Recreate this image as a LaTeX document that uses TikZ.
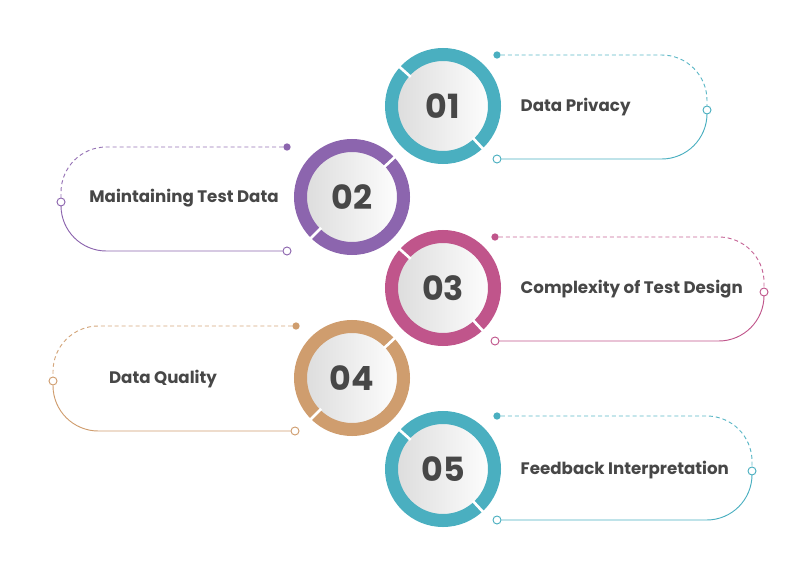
\documentclass[tikz,border=0pt]{standalone}
\usepackage{fontspec}
\setmainfont{Poppins}
\usetikzlibrary{calc}
\definecolor{sea}{HTML}{4AAFC0}
\definecolor{grape}{HTML}{8C65AE}
\definecolor{berry}{HTML}{C0558B}
\definecolor{sand}{HTML}{CF9D6E}
\definecolor{inkgrey}{HTML}{474747}
\tikzset{
  ring/.style={circle, draw=#1, line width=9.75pt, minimum size=77.25pt,
               inner sep=0pt, left color=black!14, right color=white,
               font=\bfseries\fontsize{25}{25}\selectfont, text=inkgrey},
  cut/.style={draw=white, line width=2pt},
  dotf/.style={circle, fill=#1, inner sep=0pt, minimum size=5.5pt},
  doto/.style={circle, draw=#1, fill=white, line width=0.7pt, inner sep=0pt,
               minimum size=6pt},
  dsh/.style={draw=#1!90, line width=0.7pt, dash pattern=on 3pt off 2.2pt,
              rounded corners=34pt},
  sld/.style={draw=#1, line width=0.7pt, rounded corners=34pt},
  lbl/.style={font=\bfseries\fontsize{12.5}{14}\selectfont, text=inkgrey},
}

\begin{document}
\begin{tikzpicture}[x=0.75pt, y=-0.75pt]
  \useasboundingbox (0,0) rectangle (788,581);

  % rings
  \node[ring=sea]   (c1) at (443,106) {01};
  \node[ring=grape] (c2) at (352,197) {02};
  \node[ring=berry] (c3) at (443,288) {03};
  \node[ring=sand]  (c4) at (352,378) {04};
  \node[ring=sea]   (c5) at (443,469) {05};
  \foreach \c/\a in {c1/138, c1/-47, c2/43, c2/225, c3/138, c3/-47,
                     c4/43, c4/225, c5/138, c5/-47}
    \draw[cut] ($(\c)!0.75!(\c.\a)$) -- ($(\c)!1.03!(\c.\a)$);

  % capsule ends
  \node[dotf=sea]   (d1) at (497,55)  {};
  \node[doto=sea]   (m1) at (707,110) {};
  \node[doto=sea]   (e1) at (497,159) {};
  \node[dotf=grape] (d2) at (287,147) {};
  \node[doto=grape] (m2) at (61,202)  {};
  \node[doto=grape] (e2) at (287,251) {};
  \node[dotf=berry] (d3) at (495,237) {};
  \node[doto=berry] (m3) at (764,292) {};
  \node[doto=berry] (e3) at (495,341) {};
  \node[dotf=sand]  (d4) at (296,326) {};
  \node[doto=sand]  (m4) at (53,381)  {};
  \node[doto=sand]  (e4) at (295,431) {};
  \node[dotf=sea]   (d5) at (497,416) {};
  \node[doto=sea]   (m5) at (752,471) {};
  \node[doto=sea]   (e5) at (497,520) {};

  % capsules
  \draw[dsh=sea]   (d1) -| (m1);
  \draw[sld=sea]   (m1) |- (e1);
  \draw[dsh=grape] (d2) -| (m2);
  \draw[sld=grape] (m2) |- (e2);
  \draw[dsh=berry] (d3) -| (m3);
  \draw[sld=berry] (m3) |- (e3);
  \draw[dsh=sand]  (d4) -| (m4);
  \draw[sld=sand]  (m4) |- (e4);
  \draw[dsh=sea]   (d5) -| (m5);
  \draw[sld=sea]   (m5) |- (e5);

  % labels
  \node[lbl, anchor=west] (t1) at (516,107) {Data Privacy};
  \node[lbl] (t2) at (184,198) {Maintaining Test Data};
  \node[lbl, anchor=west] (t3) at (516,289) {Complexity of Test Design};
  \node[lbl] (t4) at (163,379) {Data Quality};
  \node[lbl, anchor=west] (t5) at (516,470) {Feedback Interpretation};
\end{tikzpicture}
\end{document}
